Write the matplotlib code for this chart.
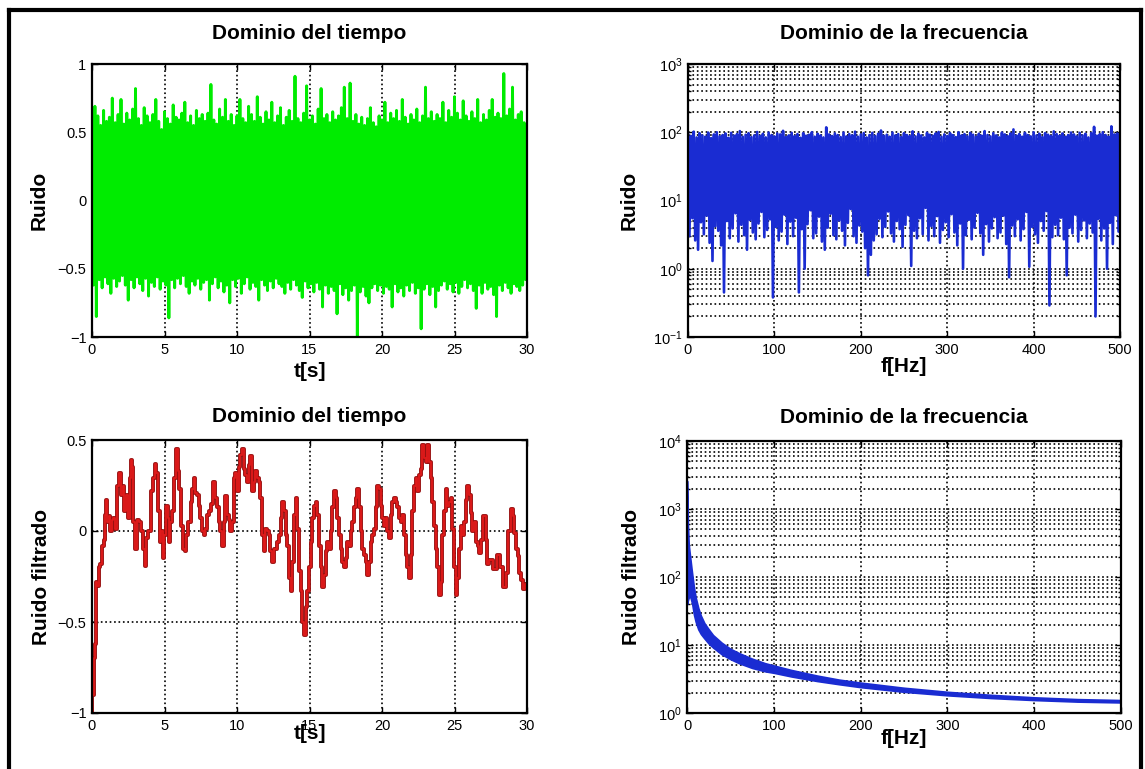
import numpy as np
import matplotlib
matplotlib.use('Agg')
import matplotlib.pyplot as plt
from matplotlib.lines import Line2D

plt.rcParams['font.family'] = ['Liberation Sans', 'DejaVu Sans']

# --- ruido (dominio del tiempo): picos positivos y negativos, cada 0.1 s
green_hi = [0.35, 0.69, 0.62, 0.55, 0.66, 0.58, 0.61, 0.75, 0.57, 0.63,
            0.74, 0.56, 0.64, 0.59, 0.67, 0.82, 0.60, 0.55, 0.68, 0.62,
            0.57, 0.63, 0.74, 0.58, 0.52, 0.65, 0.60, 0.56, 0.70, 0.61,
            0.59, 0.64, 0.72, 0.57, 0.62, 0.55, 0.66, 0.60, 0.63, 0.58,
            0.64, 0.85, 0.59, 0.56, 0.67, 0.61, 0.74, 0.58, 0.63, 0.55,
            0.62, 0.74, 0.60, 0.57, 0.69, 0.63, 0.58, 0.76, 0.61, 0.56,
            0.65, 0.59, 0.72, 0.57, 0.62, 0.68, 0.55, 0.61, 0.66, 0.58,
            0.91, 0.60, 0.57, 0.64, 0.84, 0.59, 0.62, 0.56, 0.67, 0.82,
            0.60, 0.63, 0.57, 0.65, 0.59, 0.62, 0.68, 0.83, 0.60, 0.86,
            0.58, 0.63, 0.56, 0.61, 0.55, 0.60, 0.68, 0.57, 0.54, 0.62,
            0.59, 0.72, 0.57, 0.64, 0.60, 0.66, 0.58, 0.74, 0.61, 0.56,
            0.63, 0.59, 0.67, 0.57, 0.62, 0.83, 0.60, 0.65, 0.58, 0.63,
            0.60, 0.72, 0.57, 0.66, 0.61, 0.76, 0.64, 0.59, 0.73, 0.62,
            0.58, 0.65, 0.60, 0.74, 0.57, 0.63, 0.59, 0.66, 0.74, 0.61,
            0.64, 0.60, 0.93, 0.62, 0.67, 0.83, 0.59, 0.63, 0.65, 0.57,
            0.55]
green_lo = [-0.62, -0.85, -0.58, -0.64, -0.56, -0.61, -0.68, -0.57, -0.63, -0.59,
            -0.55, -0.62, -0.73, -0.58, -0.64, -0.56, -0.61, -0.66, -0.57, -0.70,
            -0.60, -0.63, -0.56, -0.65, -0.59, -0.62, -0.86, -0.58, -0.64, -0.57,
            -0.61, -0.55, -0.63, -0.68, -0.59, -0.62, -0.57, -0.65, -0.60, -0.58,
            -0.73, -0.61, -0.56, -0.64, -0.59, -0.67, -0.62, -0.75, -0.58, -0.63,
            -0.57, -0.68, -0.61, -0.56, -0.65, -0.60, -0.63, -0.73, -0.58, -0.62,
            -0.66, -0.59, -0.64, -0.57, -0.61, -0.63, -0.68, -0.60, -0.65, -0.58,
            -0.62, -0.66, -0.71, -0.59, -0.64, -0.61, -0.67, -0.60, -0.65, -0.78,
            -0.62, -0.68, -0.63, -0.66, -0.83, -0.61, -0.69, -0.64, -0.73, -0.66,
            -0.62, -1.00, -0.67, -0.63, -0.70, -0.75, -0.64, -0.61, -0.66, -0.62,
            -0.68, -0.63, -0.65, -0.78, -0.61, -0.67, -0.64, -0.70, -0.62, -0.66,
            -0.60, -0.68, -0.64, -0.94, -0.65, -0.61, -0.69, -0.63, -0.78, -0.66,
            -0.62, -0.59, -0.65, -0.61, -0.67, -0.60, -0.68, -0.63, -0.58, -0.64,
            -0.61, -0.66, -0.79, -0.62, -0.68, -0.60, -0.65, -0.63, -0.69, -0.85,
            -0.62, -0.66, -0.60, -0.64, -0.68, -0.61, -0.63, -0.66, -0.62, -0.58]

# --- espectro del ruido: maximos y minimos cada 1.67 Hz
blue_hi = [95, 88, 102, 84, 97, 90, 86, 99, 82, 93,
           100, 87, 91, 96, 83, 98, 89, 94, 104, 86,
           92, 97, 85, 90, 101, 88, 95, 84, 99, 91,
           87, 96, 93, 105, 85, 90, 98, 88, 94, 83,
           97, 89, 92, 100, 86, 95, 90, 84, 118, 93,
           88, 96, 91, 85, 99, 87, 94, 90, 102, 86,
           93, 97, 84, 91, 98, 88, 95, 106, 89, 92,
           86, 99, 90, 94, 85, 97, 91, 88, 103, 87,
           95, 90, 84, 98, 92, 89, 96, 101, 86, 93,
           88, 97, 91, 85, 100, 90, 94, 87, 98, 92,
           86, 95, 89, 104, 91, 87, 97, 90, 84, 99,
           93, 88, 96, 110, 89, 94, 86, 98, 91, 87,
           100, 90, 95, 85, 97, 92, 88, 103, 94, 89,
           96, 86, 91, 99, 93, 87, 98, 90, 95, 84,
           97, 120, 89, 94, 100, 91, 86, 122, 93, 96,
           95]
blue_lo = [3.0, 5.5, 2.6, 1.9, 4.8, 3.2, 6.0, 2.4, 1.3, 4.2,
           3.6, 2.2, 0.45, 5.0, 2.8, 3.9, 6.5, 2.5, 4.4, 3.1,
           1.9, 5.2, 3.4, 2.7, 4.6, 6.8, 2.9, 3.7, 5.3, 0.38,
           4.1, 2.6, 3.5, 6.2, 2.3, 4.9, 3.0, 5.6, 0.45, 3.8,
           1.0, 4.5, 7.2, 2.8, 3.3, 5.8, 2.5, 1.9, 4.0, 6.4,
           3.1, 2.7, 5.1, 3.6, 2.2, 4.7, 7.5, 3.0, 2.4, 4.3,
           3.5, 2.0, 0.8, 1.6, 2.6, 3.2, 5.4, 2.9, 4.1, 6.9,
           3.3, 2.5, 5.0, 3.8, 2.1, 4.4, 6.1, 1.1, 3.6, 2.8,
           5.5, 3.2, 7.8, 2.6, 4.2, 3.0, 5.9, 2.4, 3.7, 4.8,
           2.9, 6.3, 3.4, 2.2, 4.6, 1.0, 3.1, 5.2, 2.7, 4.0,
           6.6, 3.3, 1.6, 4.5, 2.5, 3.9, 5.7, 2.8, 3.4, 6.0,
           2.3, 0.75, 4.3, 3.0, 5.3, 2.6, 3.8, 6.8, 1.07, 4.1,
           3.2, 2.4, 5.0, 3.6, 7.0, 0.29, 2.9, 4.4, 3.1, 5.6,
           2.7, 0.8, 4.0, 3.3, 6.2, 2.5, 3.7, 5.1, 2.8, 4.6,
           3.4, 0.2, 5.4, 2.6, 3.9, 1.0, 4.7, 2.3, 6.1, 3.5]

# --- ruido filtrado (dominio del tiempo)
red_t = [0.0, 0.06, 0.15, 0.24, 0.33, 0.4, 0.52, 0.62, 0.75, 0.85, 0.93, 1.02, 1.09, 1.2, 1.32,
         1.42, 1.53, 1.67, 1.78, 1.94, 2.08, 2.17, 2.31, 2.41, 2.54, 2.64, 2.7, 2.82, 2.89, 3.0,
         3.16, 3.33, 3.46, 3.58, 3.69, 3.81, 3.97, 4.13, 4.25, 4.38, 4.48, 4.61, 4.73, 4.82, 4.94,
         5.05, 5.17, 5.26, 5.35, 5.47, 5.58, 5.74, 5.86, 5.97, 6.09, 6.18, 6.32, 6.46, 6.55, 6.73,
         6.87, 6.96, 7.08, 7.19, 7.31, 7.42, 7.54, 7.65, 7.77, 7.88, 8.04, 8.16, 8.3, 8.41, 8.53,
         8.67, 8.8, 8.92, 9.03, 9.15, 9.26, 9.38, 9.49, 9.61, 9.72, 9.84, 9.95, 10.07, 10.18, 10.3,
         10.41, 10.53, 10.64, 10.76, 10.87, 10.99, 11.1, 11.22, 11.33, 11.45, 11.56, 11.68, 11.8,
         11.91, 12.02, 12.14, 12.25, 12.37, 12.48, 12.6, 12.72, 12.83, 12.95, 13.06, 13.18, 13.29,
         13.41, 13.52, 13.64, 13.76, 13.87, 13.99, 14.1, 14.21, 14.33, 14.44, 14.56, 14.68, 14.79,
         14.9, 15.02, 15.13, 15.25, 15.36, 15.48, 15.59, 15.71, 15.82, 15.94, 16.05, 16.17, 16.28,
         16.4, 16.51, 16.63, 16.74, 16.86, 16.97, 17.09, 17.2, 17.32, 17.43, 17.55, 17.66, 17.78,
         17.89, 18.01, 18.12, 18.24, 18.35, 18.47, 18.58, 18.7, 18.81, 18.93, 19.04, 19.16, 19.27,
         19.39, 19.51, 19.62, 19.74, 19.85, 19.97, 20.08, 20.2, 20.31, 20.43, 20.54, 20.66, 20.77,
         20.89, 21.0, 21.12, 21.23, 21.35, 21.47, 21.58, 21.7, 21.81, 21.93, 22.04, 22.15, 22.27,
         22.39, 22.5, 22.61, 22.73, 22.84, 22.96, 23.07, 23.19, 23.3, 23.42, 23.53, 23.65, 23.77,
         23.88, 24.0, 24.11, 24.23, 24.34, 24.45, 24.57, 24.68, 24.8, 24.92, 25.03, 25.15, 25.26,
         25.38, 25.49, 25.61, 25.72, 25.84, 25.95, 26.07, 26.18, 26.3, 26.4, 26.53, 26.65, 26.76,
         26.86, 27.09, 27.2, 27.33, 27.45, 27.56, 27.79, 28.02, 28.26, 28.49, 28.6, 28.84, 28.95,
         29.07, 29.19, 29.3, 29.42, 29.53, 29.65, 29.77, 29.93, 30.0]
red_v = [-1.0, -0.9, -0.7, -0.62, -0.28, -0.3, -0.2, -0.18, -0.08, -0.05, 0.09, 0.17, 0.05, 0.08, 0.0,
         0.06, 0.07, 0.01, 0.25, 0.32, 0.2, 0.25, 0.11, 0.2, 0.07, 0.29, 0.39, 0.35, 0.05, -0.1,
         0.06, 0.05, 0.0, -0.1, -0.19, -0.04, 0.0, 0.22, 0.29, 0.37, 0.32, 0.11, -0.06, 0.0, -0.15,
         -0.02, 0.14, 0.07, -0.06, 0.05, 0.11, 0.29, 0.45, 0.33, 0.23, 0.03, -0.1, -0.11, -0.02, 0.05,
         0.16, 0.23, 0.29, 0.21, 0.2, 0.14, 0.07, 0.0, -0.02, 0.01, 0.09, 0.11, 0.15, 0.27, 0.18,
         0.13, 0.05, 0.0, -0.08, 0.05, 0.19, 0.09, 0.06, 0.0, 0.05, 0.29, 0.32, 0.22, 0.35, 0.42,
         0.45, 0.34, 0.31, 0.27, 0.36, 0.41, 0.22, 0.27, 0.33, 0.29, 0.27, 0.18, -0.02,
         -0.11, 0.01, 0.0, -0.02, -0.11, -0.17, -0.1, -0.1, -0.06, -0.02, 0.07, 0.16, 0.11,
         -0.02, -0.08, -0.26, -0.33, -0.17, 0.09, 0.18, 0.01, -0.22, -0.33, -0.5, -0.57, -0.42,
         -0.33, -0.2, -0.06, 0.07, 0.14, 0.16, 0.09, -0.08, -0.2, -0.31, -0.24, -0.11, -0.06,
         -0.1, 0.0, 0.13, 0.22, 0.18, 0.07, -0.02, -0.1, -0.17, -0.2, -0.15, -0.06, -0.08,
         0.0, 0.05, 0.13, 0.18, 0.23, 0.13, 0.0, -0.1, -0.13, -0.17, -0.24, -0.17, -0.06,
         -0.02, 0.01, 0.13, 0.25, 0.23, 0.14, 0.07, 0.03, 0.07, 0.0, -0.04, 0.09, 0.16,
         0.18, 0.16, 0.13, 0.07, 0.05, 0.09, -0.02, -0.13, -0.2, -0.26, -0.13, 0.11, 0.25,
         0.29, 0.22, 0.31, 0.34, 0.47, 0.4, 0.38, 0.47, 0.38, 0.29, 0.16, 0.03, -0.1,
         -0.2, -0.35, -0.28, -0.02, 0.11, 0.23, 0.14, 0.16, 0.18, 0.01, -0.2, -0.35, -0.26,
         -0.1, 0.03, -0.02, 0.05, 0.17, 0.25, 0.2, 0.1, 0.0, 0.05, -0.06, -0.08, -0.12,
         -0.05, 0.08, -0.05, -0.18, -0.16, -0.16, -0.21, -0.13, -0.2, -0.31, -0.23, 0.0, 0.12,
         0.08, -0.01, -0.1, -0.14, -0.23, -0.27, -0.32, -0.29, -0.3]

# --- espectro del ruido filtrado (banda superior e inferior)
filt_f = [0, 1, 2, 3, 4, 5, 6, 8, 10, 13, 16, 20, 25, 30, 40, 50, 60, 75, 90, 100,
          120, 150, 175, 200, 250, 300, 350, 400, 450, 500]
filt_hi = [2600, 600, 300, 230, 180, 140, 110, 70, 50, 35, 27, 21, 17, 14, 10.8, 8.8, 7.6, 6.3, 5.4, 5.0,
           4.3, 3.55, 3.1, 2.8, 2.35, 2.05, 1.85, 1.7, 1.6, 1.55]
filt_lo = [40, 45, 50, 52, 50, 45, 40, 28, 22, 17, 14.5, 12.5, 10.5, 9.2, 7.3, 6.2, 5.4, 4.6, 4.1, 3.9,
           3.45, 2.95, 2.65, 2.4, 2.05, 1.82, 1.66, 1.55, 1.47, 1.43]

W, H = 1145, 769
fig = plt.figure(figsize=(W / 100, H / 100), dpi=100)
fig.patch.set_facecolor('white')

MINUS = '\u2212'


def style(ax, log=False):
    for s in ax.spines.values():
        s.set_linewidth(1.6)
        s.set_color('black')
    ax.tick_params(which='both', direction='in', top=True, right=True,
                   labelsize=10.5, pad=4, width=1)
    ax.tick_params(which='major', length=4)
    ax.tick_params(which='minor', length=2)
    ax.set_axisbelow(True)
    if log:
        ax.grid(True, which='major', axis='x', ls=':', color='k', lw=1.2)
        ax.grid(True, which='both', axis='y', ls=':', color='k', lw=1.2)
    else:
        ax.grid(True, ls=':', color='k', lw=1.2)


def labels(ax, title, xl, yl, title_pad, xl_y, yl_x):
    ax.set_title(title, fontsize=15, fontweight='bold', pad=title_pad)
    ax.set_xlabel(xl, fontsize=15, fontweight='bold')
    ax.set_ylabel(yl, fontsize=15, fontweight='bold')
    ax.xaxis.set_label_coords(0.5, xl_y)
    ax.yaxis.set_label_coords(yl_x, 0.5)


# Arriba izquierda: ruido
ax1 = fig.add_axes([92 / W, 1 - 337 / H, 435 / W, 273 / H])
g = np.empty(len(green_hi) + len(green_lo))
g[0::2] = green_hi
g[1::2] = green_lo
gt = np.linspace(0, 30, len(g))
ax1.plot(gt, g, color='#00ec00', lw=2.1)
ax1.set_xlim(0, 30)
ax1.set_ylim(-1, 1)
ax1.set_xticks(range(0, 31, 5))
ax1.set_yticks([-1, -0.5, 0, 0.5, 1])
ax1.set_yticklabels([MINUS + '1', MINUS + '0.5', '0', '0.5', '1'])
style(ax1)
labels(ax1, 'Dominio del tiempo', 't[s]', 'Ruido', 18, -0.09, -0.10)

# Arriba derecha: espectro del ruido
ax2 = fig.add_axes([688 / W, 1 - 337 / H, 432 / W, 273 / H])
b = np.empty(len(blue_hi) + len(blue_lo))
b[0::2] = blue_hi
b[1::2] = blue_lo
bf = np.linspace(0, 500, len(b))
ax2.plot(bf, b, color='#1a2cd2', lw=1.9)
ax2.set_yscale('log')
ax2.set_xlim(0, 500)
ax2.set_ylim(0.1, 1000)
ax2.set_xticks(range(0, 501, 100))
style(ax2, log=True)
labels(ax2, 'Dominio de la frecuencia', 'f[Hz]', 'Ruido', 18, -0.075, -0.115)

# Abajo izquierda: ruido filtrado
ax3 = fig.add_axes([92 / W, 1 - 713 / H, 435 / W, 273 / H])
ax3.plot(red_t, red_v, color='#9a1010', lw=2.8, drawstyle='steps-mid')
ax3.plot(red_t, red_v, color='#e01a1a', lw=1.3, drawstyle='steps-mid')
ax3.set_xlim(0, 30)
ax3.set_ylim(-1, 0.5)
ax3.set_xticks(range(0, 31, 5))
ax3.set_yticks([-1, -0.5, 0, 0.5])
ax3.set_yticklabels([MINUS + '1', MINUS + '0.5', '0', '0.5'])
style(ax3)
labels(ax3, 'Dominio del tiempo', 't[s]', 'Ruido filtrado', 13, -0.04, -0.095)

# Abajo derecha: espectro del ruido filtrado
ax4 = fig.add_axes([687 / W, 1 - 713 / H, 434 / W, 272 / H])
ax4.fill_between(filt_f, filt_lo, filt_hi, color='#1a2cd2', lw=1.2, edgecolor='#1a2cd2')
ax4.set_yscale('log')
ax4.set_xlim(0, 500)
ax4.set_ylim(1, 10000)
ax4.set_xticks(range(0, 501, 100))
style(ax4, log=True)
labels(ax4, 'Dominio de la frecuencia', 'f[Hz]', 'Ruido filtrado', 13, -0.06, -0.105)

# marco negro exterior
fig.add_artist(Line2D([9 / W, 9 / W], [0, 1 - 10 / H], color='k', lw=3, transform=fig.transFigure))
fig.add_artist(Line2D([9 / W, 1141 / W], [1 - 10 / H, 1 - 10 / H], color='k', lw=3, transform=fig.transFigure))
fig.add_artist(Line2D([1141 / W, 1141 / W], [0, 1 - 10 / H], color='k', lw=3, transform=fig.transFigure))

fig.savefig('out.png', dpi=100)
